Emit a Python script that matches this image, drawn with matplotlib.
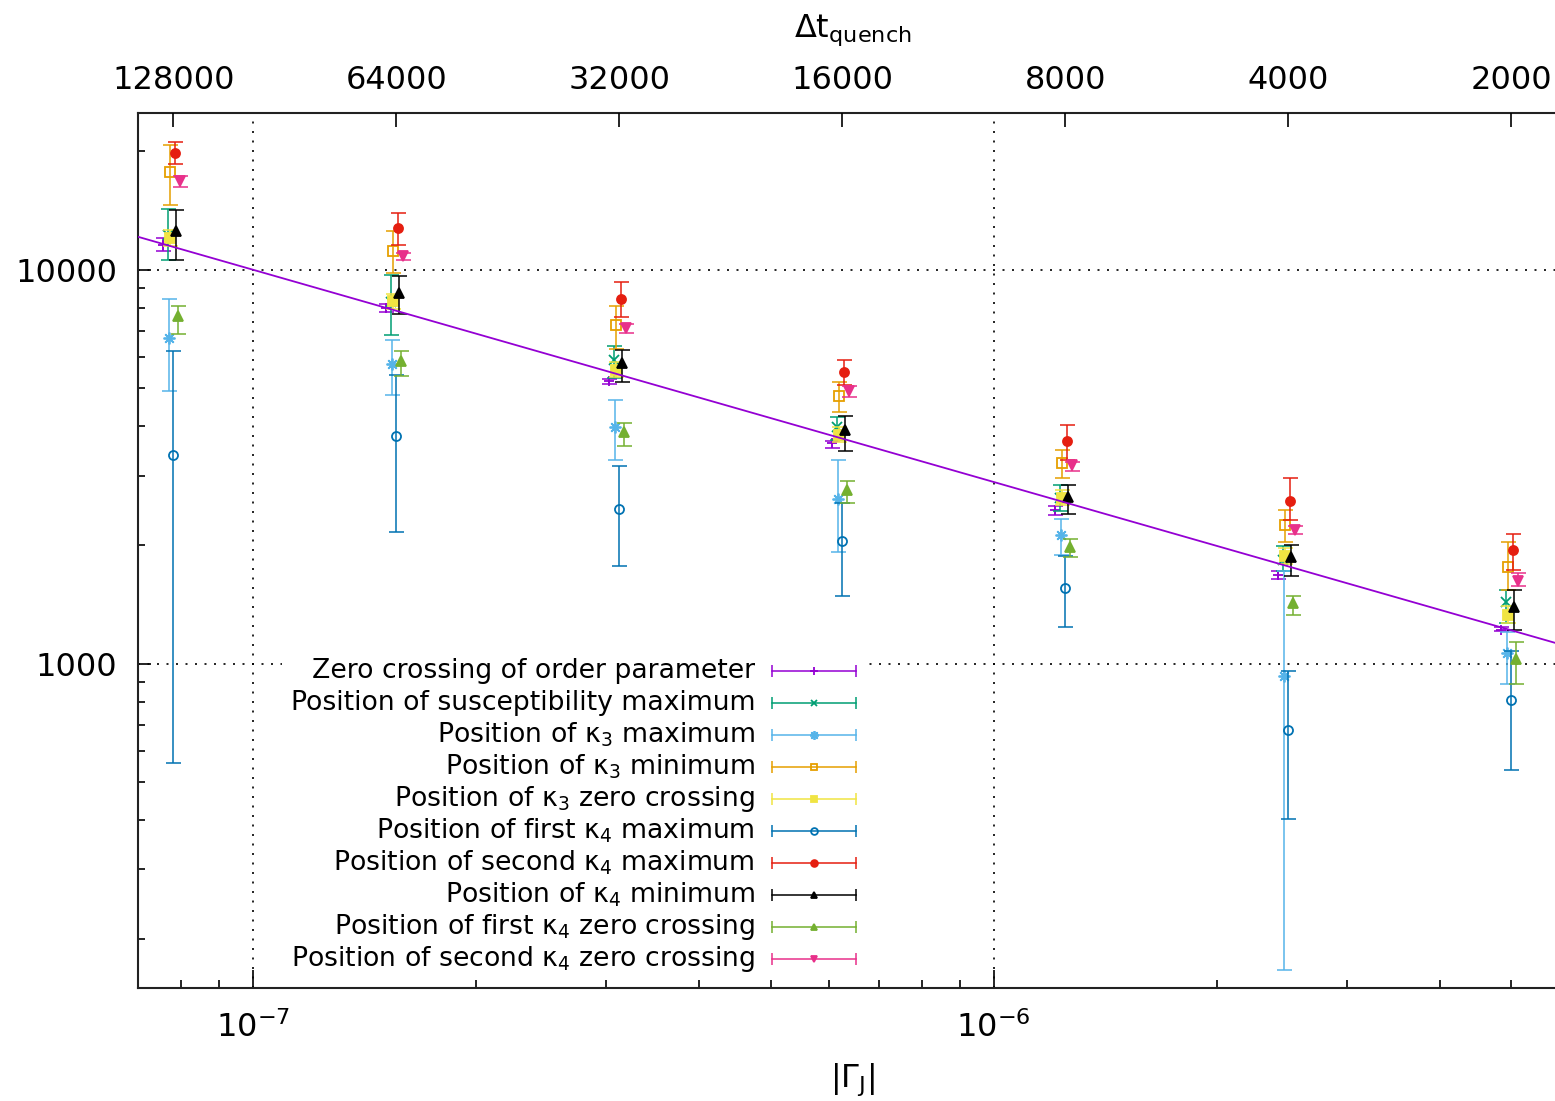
import numpy as np
import matplotlib
matplotlib.use("Agg")
import matplotlib.pyplot as plt
from matplotlib.patches import Rectangle
from matplotlib.ticker import LogLocator, NullFormatter, NullLocator, FixedLocator

# Quench times and the corresponding coupling rate |Gamma_J| = 0.01 / dt
dt_quench = [128000, 64000, 32000, 16000, 8000, 4000, 2000]
gamma_times_dt = 0.01
gamma_j = [gamma_times_dt / t for t in dt_quench]

# Observables: central value, lower and upper end of the error bar
zero_op = [11570, 7994, 5205, 3633, 2460, 1682, 1220]
zero_op_lo = [11130, 7790, 5124, 3529, 2389, 1641, 1206]
zero_op_hi = [12060, 8197, 5290, 3680, 2518, 1715, 1241]

chi_max = [12270, 8300, 5909, 3990, 2634, 1837, 1431]
chi_max_lo = [10600, 6840, 5310, 3703, 2435, 1715, 1269]
chi_max_hi = [14260, 9712, 6387, 4230, 2847, 1984, 1541]

k3_max = [6708, 5773, 3990, 2618, 2117, 932, 1064]
k3_max_lo = [4911, 4797, 3296, 1921, 1891, 167, 888]
k3_max_hi = [8427, 6641, 4660, 3296, 2333, 1720, 1199]

k3_min = [17700, 11130, 7252, 4770, 3232, 2253, 1760]
k3_min_lo = [14640, 9809, 6301, 4352, 2960, 2031, 1541]
k3_min_hi = [20730, 12510, 8103, 5188, 3491, 2460, 2031]

k3_zero = [12060, 8310, 5574, 3812, 2634, 1880, 1331]
k3_zero_lo = [11500, 7950, 5330, 3650, 2520, 1790, 1270]
k3_zero_hi = [12650, 8690, 5830, 3990, 2760, 1970, 1400]

k4_max1 = [3380, 3776, 2470, 2052, 1556, 677, 810]
k4_max1_lo = [560, 2159, 1773, 1482, 1239, 402, 538]
k4_max1_hi = [6205, 5413, 3168, 2558, 1880, 960, 1075]

k4_max2 = [19783, 12760, 8427, 5499, 3665, 2582, 1939]
k4_max2_lo = [18580, 11570, 7569, 5084, 3296, 2320, 1725]
k4_max2_hi = [21040, 13930, 9307, 5909, 4027, 2960, 2135]

k4_min = [12510, 8727, 5796, 3909, 2649, 1862, 1393]
k4_min_lo = [10600, 7734, 5196, 3472, 2403, 1666, 1220]
k4_min_hi = [14200, 9655, 6265, 4244, 2837, 2003, 1541]

k4_zero1 = [7613, 5852, 3873, 2764, 1978, 1426, 1024]
k4_zero1_lo = [6853, 5360, 3575, 2559, 1867, 1331, 888]
k4_zero1_hi = [8103, 6235, 4085, 2899, 2072, 1488, 1136]

k4_zero2 = [16750, 10810, 7112, 4911, 3200, 2180, 1624]
k4_zero2_lo = [16180, 10600, 6906, 4755, 3090, 2138, 1578]
k4_zero2_hi = [17320, 11020, 7298, 5056, 3257, 2230, 1695]

# Power-law fit to the order-parameter zero crossing: y = amp * |Gamma_J|**exp
fit_amp = 1.687
fit_exp = -0.539

labels = [
    "Zero crossing of order parameter",
    "Position of susceptibility maximum",
    "Position of κ$_3$ maximum",
    "Position of κ$_3$ minimum",
    "Position of κ$_3$ zero crossing",
    "Position of first κ$_4$ maximum",
    "Position of second κ$_4$ maximum",
    "Position of κ$_4$ minimum",
    "Position of first κ$_4$ zero crossing",
    "Position of second κ$_4$ zero crossing",
]
series = [
    (zero_op, zero_op_lo, zero_op_hi),
    (chi_max, chi_max_lo, chi_max_hi),
    (k3_max, k3_max_lo, k3_max_hi),
    (k3_min, k3_min_lo, k3_min_hi),
    (k3_zero, k3_zero_lo, k3_zero_hi),
    (k4_max1, k4_max1_lo, k4_max1_hi),
    (k4_max2, k4_max2_lo, k4_max2_hi),
    (k4_min, k4_min_lo, k4_min_hi),
    (k4_zero1, k4_zero1_lo, k4_zero1_hi),
    (k4_zero2, k4_zero2_lo, k4_zero2_hi),
]

# Styling: colour, marker, marker size, filled, small horizontal shift (factor on x)
styles = [
    ("#9400d3", "+", 7.5, True, 0.969),
    ("#009e73", "x", 6.5, True, 0.985),
    ("#56b4e9", (8, 2, 0), 8.5, True, 0.988),
    ("#e69f00", "s", 6.5, False, 0.991),
    ("#f0e442", "s", 6.5, True, 0.989),
    ("#0072b2", "o", 6.5, False, 1.000),
    ("#e51e10", "o", 6.5, True, 1.005),
    ("#000000", "^", 6.5, True, 1.009),
    ("#74b030", "^", 6.5, True, 1.014),
    ("#e8308a", "v", 6.5, True, 1.020),
]

plt.rcParams["font.family"] = ["DejaVu Sans"]
plt.rcParams["mathtext.default"] = "regular"

W, H = 1555, 1101
fig = plt.figure(figsize=(W / 100, H / 100), dpi=100)
x0, x1, y_top, y_bot = 138, 1570, 113, 988
ax = fig.add_axes([x0 / W, (H - y_bot) / H, (x1 - x0) / W, (y_bot - y_top) / H])
ax.set_xscale("log")
ax.set_yscale("log")
ax.set_xlim(7e-8, 6e-6)
ax.set_ylim(150, 25000)

lw = 1.1
for (val, lo, hi), (col, mk, msz, filled, shift) in zip(series, styles):
    val = np.asarray(val, float)
    err = [val - np.asarray(lo, float), np.asarray(hi, float) - val]
    xs = np.asarray(gamma_j) * shift
    ax.errorbar(xs, val, yerr=err, fmt="none", ecolor=col, elinewidth=lw,
                capsize=5.4, capthick=lw, zorder=3)
    ax.plot(xs, val, linestyle="none", marker=mk, ms=msz, color=col,
            mfc=col if filled else "none", mew=1.3, zorder=3)

# Fitted power law
gx = np.geomspace(7e-8, 6e-6, 200)
ax.plot(gx, fit_amp * gx ** fit_exp, color="#9400d3", lw=1.3, zorder=4)

# Grid and ticks
ax.grid(True, which="major", color="black", linestyle=(0, (1.2, 4.5)), linewidth=1.2)
ax.set_axisbelow(True)
ax.xaxis.set_major_locator(LogLocator(base=10))
ax.xaxis.set_minor_locator(LogLocator(base=10, subs=np.arange(2, 10)))
ax.xaxis.set_minor_formatter(NullFormatter())
ax.yaxis.set_major_locator(FixedLocator([1000, 10000]))
ax.set_yticklabels(["1000", "10000"])
ax.yaxis.set_minor_locator(LogLocator(base=10, subs=np.arange(2, 10)))
ax.yaxis.set_minor_formatter(NullFormatter())
ax.tick_params(axis="x", which="major", direction="in", length=13, width=1.2,
               labelsize=23, pad=17, top=False)
ax.tick_params(axis="x", which="minor", direction="in", length=6, width=1.2, top=False)
ax.tick_params(axis="y", which="major", direction="in", length=9, width=1.2,
               labelsize=23, pad=15, right=False)
ax.tick_params(axis="y", which="minor", direction="in", length=5, width=1.2, right=False)
for sp in ax.spines.values():
    sp.set_linewidth(1.5)
    sp.set_color("#222222")

# Top axis: quench time
ax2 = ax.twiny()
ax2.set_xscale("log")
ax2.set_xlim(ax.get_xlim())
ax2.xaxis.set_major_locator(FixedLocator(gamma_j))
ax2.set_xticklabels([str(t) for t in dt_quench])
ax2.xaxis.set_minor_locator(NullLocator())
ax2.tick_params(axis="x", which="major", direction="in", length=10, width=1.2,
                labelsize=23, pad=12)
for sp in ax2.spines.values():
    sp.set_visible(False)

fig.text(853 / W, 1 - 30 / H, "Δt$_{quench}$", ha="center", va="center", fontsize=23)
fig.text(853 / W, 1 - 1080 / H, "|Γ$_{J}$|", ha="center", va="center", fontsize=23)

# Key with right-justified entries and error-bar samples
def fx(px):
    return (px - x0) / (x1 - x0)

def fy(py):
    return (y_bot - py) / (y_bot - y_top)

ax.add_patch(Rectangle((fx(282), fy(976)), fx(868) - fx(282), fy(655) - fy(976),
                       transform=ax.transAxes, facecolor="white", edgecolor="none", zorder=5))
for i, (lab, (col, mk, msz, filled, _)) in enumerate(zip(labels, styles)):
    py = 671 + 32 * i
    yy = fy(py)
    ax.text(fx(755), yy, lab, transform=ax.transAxes, ha="right", va="center",
            fontsize=19.2, zorder=6)
    ax.plot([fx(772), fx(856)], [yy, yy], transform=ax.transAxes, color=col, lw=lw,
            zorder=6, clip_on=False)
    ax.plot([fx(772), fx(856)], [yy, yy], transform=ax.transAxes, linestyle="none",
            marker="|", ms=9, mew=lw, color=col, zorder=6, clip_on=False)
    ax.plot([fx(814)], [yy], transform=ax.transAxes, linestyle="none", marker=mk,
            ms=msz * 0.75, color=col, mfc=col if filled else "none", mew=1.3, zorder=6)

fig.savefig("out.png", dpi=100)
